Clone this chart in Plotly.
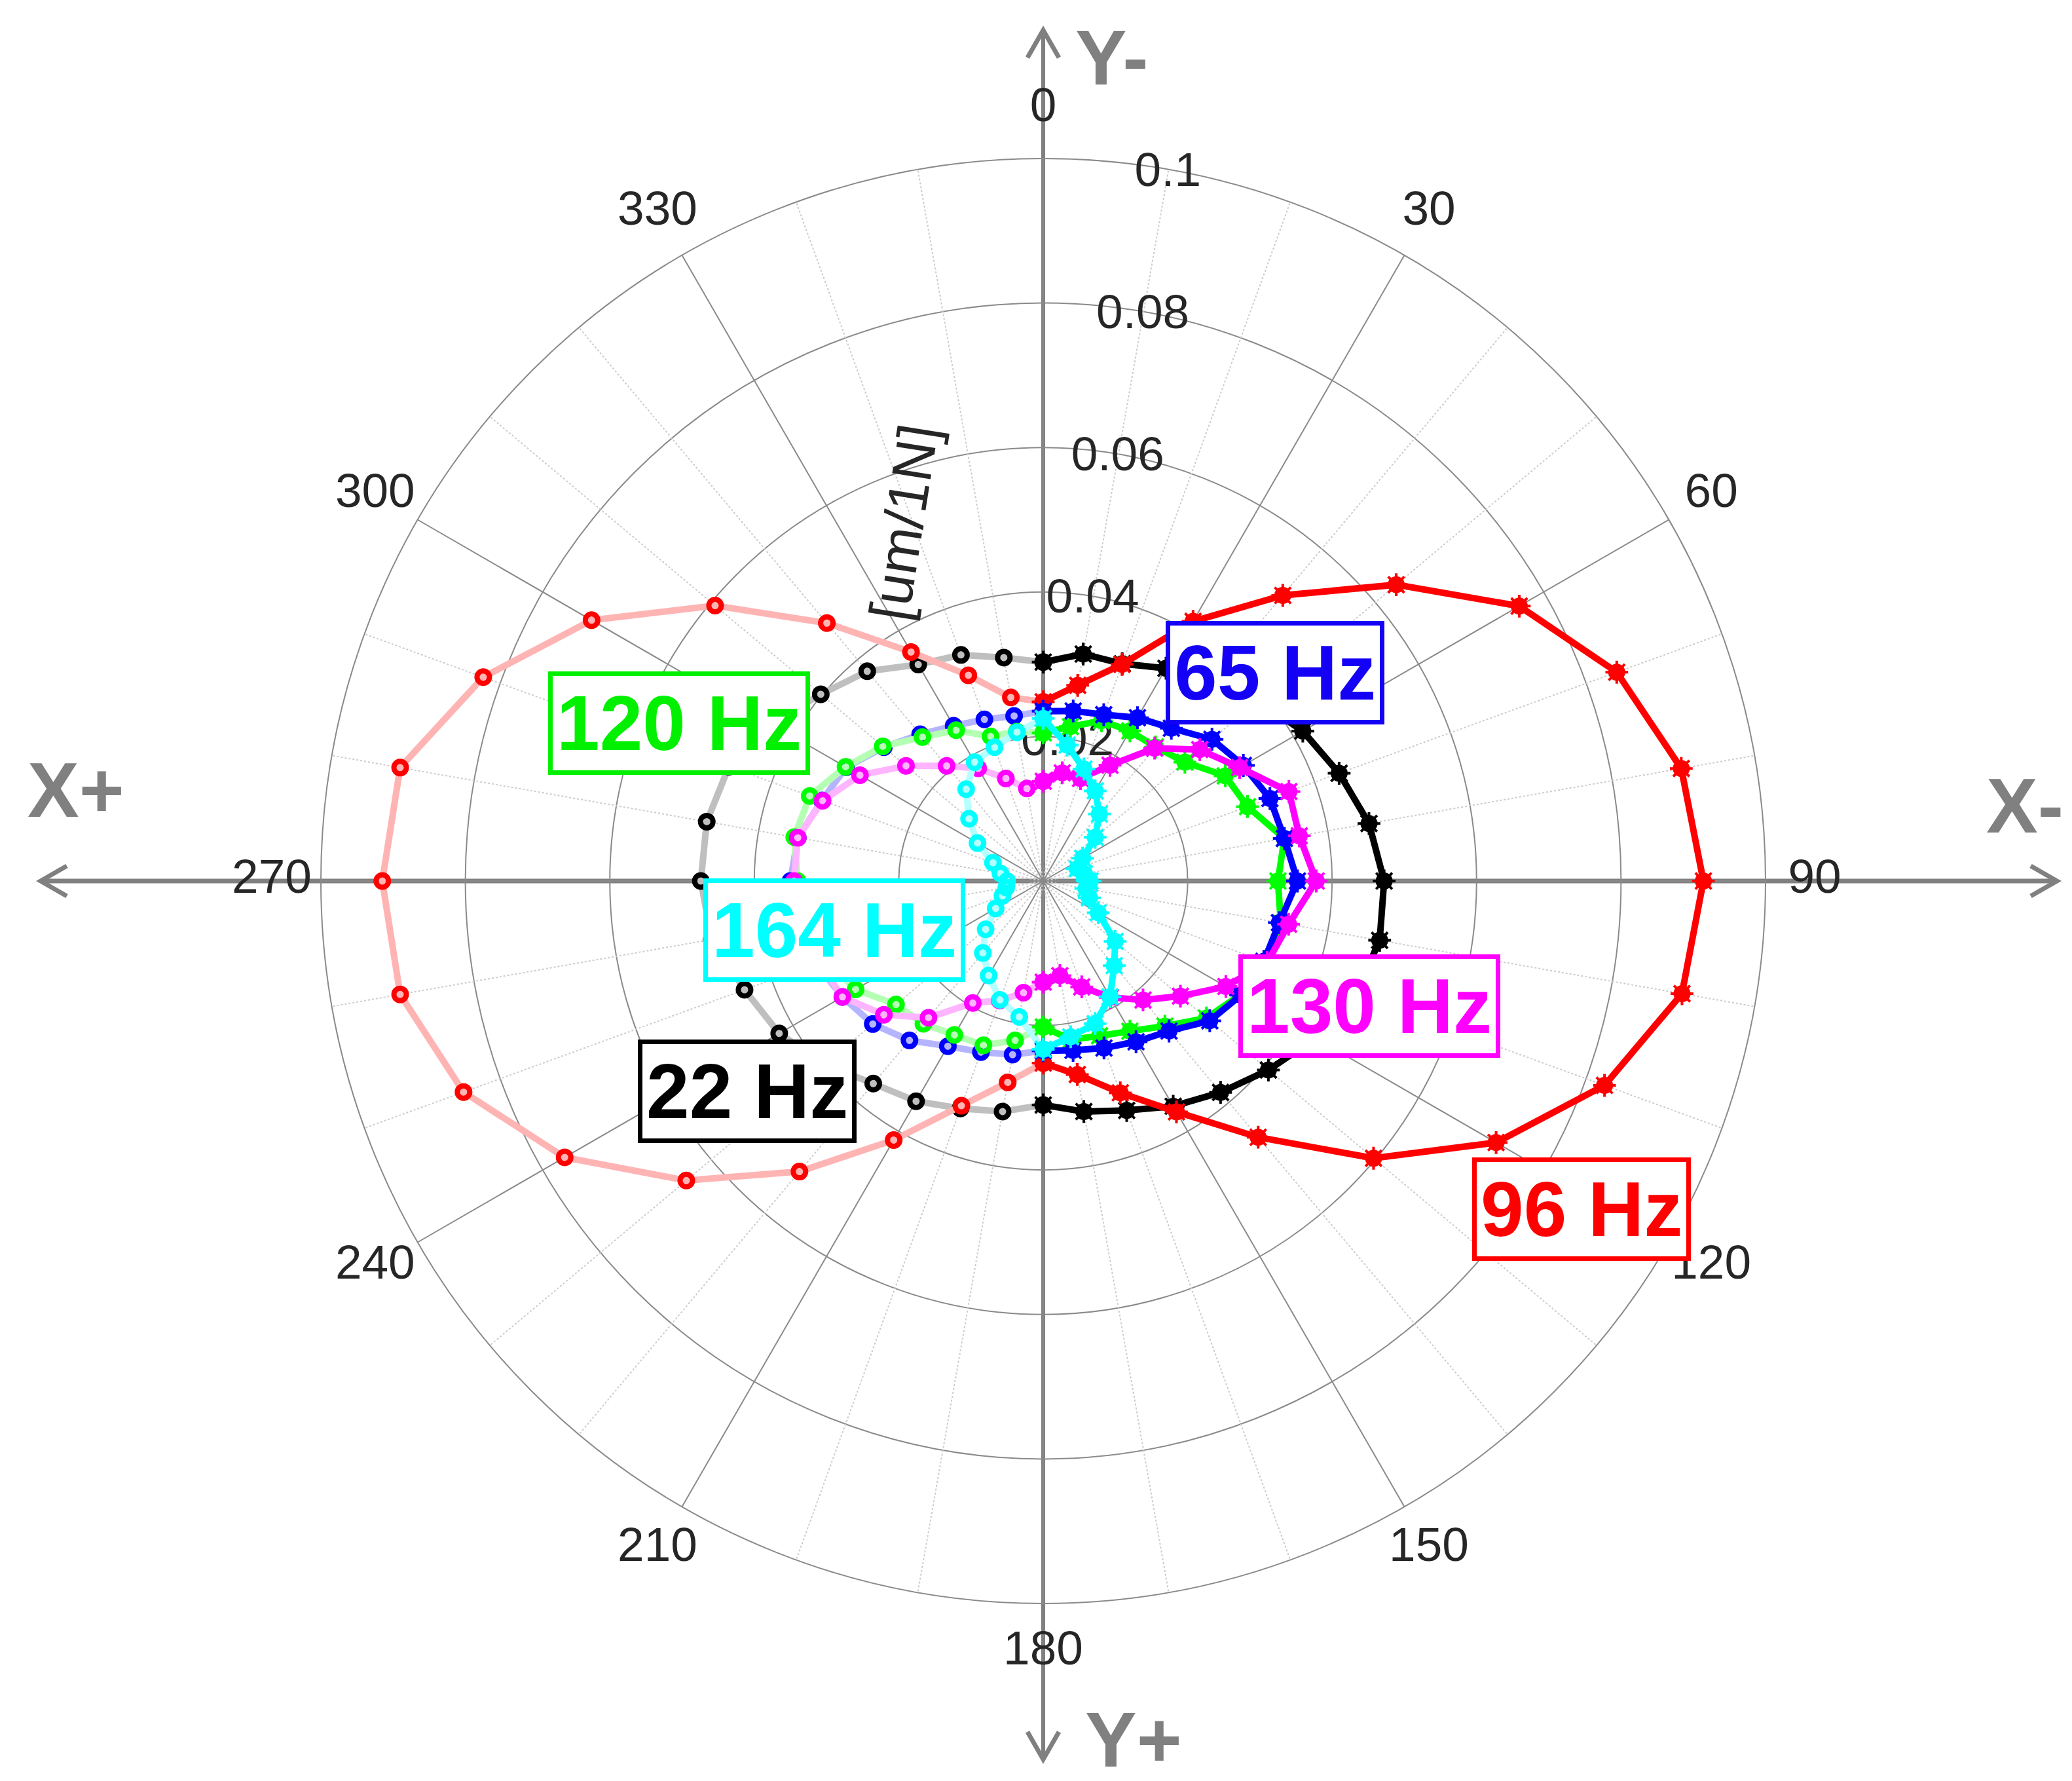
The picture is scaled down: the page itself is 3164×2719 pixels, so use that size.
import plotly.graph_objects as go

# ---------------- data (angle in degrees, clockwise from Y-) ----------------
theta_deg = list(range(0, 360, 10))  # 0..350

r_22hz = [0.0303, 0.0319, 0.0320, 0.0340, 0.0362, 0.0388, 0.0415, 0.0436, 0.0458, 0.0472,
          0.0473, 0.0460, 0.0435, 0.0407, 0.0382, 0.0360, 0.0338, 0.0324, 0.0310,
          0.0324, 0.0335, 0.0352, 0.0366, 0.0395, 0.0422, 0.0440, 0.0466, 0.0474,
          0.0473, 0.0463, 0.0435, 0.0402, 0.0379, 0.0346, 0.0333, 0.0314]
r_96hz = [0.0248, 0.0275, 0.0319, 0.0415, 0.0516, 0.0638, 0.0761, 0.0845, 0.0897, 0.0914,
          0.0898, 0.0827, 0.0724, 0.0597, 0.0463, 0.0369, 0.0312, 0.0272, 0.0252,
          0.0283, 0.0331, 0.0414, 0.0525, 0.0645, 0.0765, 0.0854, 0.0904, 0.0915,
          0.0904, 0.0825, 0.0722, 0.0593, 0.0466, 0.0366, 0.0303, 0.0258]
r_65hz = [0.0235, 0.0239, 0.0245, 0.0261, 0.0276, 0.0305, 0.0320, 0.0334, 0.0339, 0.0352,
          0.0332, 0.0325, 0.0316, 0.0301, 0.0271, 0.0257, 0.0246, 0.0238, 0.0235,
          0.0244, 0.0252, 0.0264, 0.0288, 0.0308, 0.0321, 0.0334, 0.0345, 0.0350,
          0.0345, 0.0326, 0.0315, 0.0288, 0.0265, 0.0248, 0.0238, 0.0232]
r_120hz = [0.0205, 0.0217, 0.0236, 0.0240, 0.0242, 0.0256, 0.0291, 0.0301, 0.0339, 0.0325,
           0.0334, 0.0330, 0.0315, 0.0295, 0.0262, 0.0240, 0.0228, 0.0223, 0.0202,
           0.0224, 0.0242, 0.0246, 0.0258, 0.0266, 0.0300, 0.0320, 0.0335, 0.0340,
           0.0350, 0.0344, 0.0316, 0.0290, 0.0260, 0.0241, 0.0213, 0.0210]
r_130hz = [0.0138, 0.0152, 0.0151, 0.0185, 0.0240, 0.0283, 0.0314, 0.0362, 0.0360, 0.0378,
           0.0345, 0.0330, 0.0292, 0.0248, 0.0215, 0.0186, 0.0156, 0.0133, 0.0140,
           0.0157, 0.0176, 0.0195, 0.0247, 0.0288, 0.0321, 0.0330, 0.0345, 0.0345,
           0.0345, 0.0325, 0.0293, 0.0248, 0.0208, 0.0180, 0.0151, 0.0130]
r_164hz = [0.0225, 0.0191, 0.0165, 0.0144, 0.0121, 0.0094, 0.0063, 0.0050, 0.0058, 0.0065,
           0.0060, 0.0068, 0.0088, 0.0130, 0.0153, 0.0185, 0.0210, 0.0219, 0.0233,
           0.0191, 0.0175, 0.0151, 0.0130, 0.0104, 0.0076, 0.0060, 0.0052, 0.0050,
           0.0060, 0.0074, 0.0105, 0.0134, 0.0166, 0.0190, 0.0197, 0.0209]

series_names = ["22 Hz", "96 Hz", "65 Hz", "120 Hz", "130 Hz", "164 Hz"]
series_values = [r_22hz, r_96hz, r_65hz, r_120hz, r_130hz, r_164hz]
series_colors = ["#000000", "#ff0000", "#0000ff", "#00ff00", "#ff00ff", "#00ffff"]
series_faded = ["#bfbfbf", "#ffb4b4", "#b4b4ff", "#b4ffb4", "#ffb4ff", "#b4ffff"]

radial_ticks = [0.02, 0.04, 0.06, 0.08, 0.1]
radial_ticktext = ["0.02", "0.04", "0.06", "0.08", "0.1"]
angular_ticks = list(range(0, 360, 30))
angular_ticktext = [str(a) for a in angular_ticks]
minor_spokes = [a for a in range(0, 360, 10) if a % 30 != 0]

# labels: (text, color, pixel centre)
freq_labels = [("65 Hz", "#1400f5", (1939, 1019)),
               ("120 Hz", "#00f000", (1029, 1096)),
               ("164 Hz", "#00ffff", (1266, 1412)),
               ("130 Hz", "#ff00ff", (2083, 1528)),
               ("22 Hz", "#000000", (1133, 1658)),
               ("96 Hz", "#ff0000", (2407, 1838))]

# ---------------- geometry ----------------
W, H = 3164, 2719
CXP, CYP, RP = 1585, 1337, 1103          # polar centre / pixel radius of the 0.1 ring
RMAX = 0.1                               # outer grid ring
RRANGE = 0.112                           # axis range (room for the angle labels)
RPX = RP * RRANGE / RMAX


def px(x):
    return x / W


def py(y):
    return 1 - y / H


fig = go.Figure()
grid_col = "#8a8a8a"

# dotted minor spokes
sr, st = [], []
for a in minor_spokes:
    sr += [0, RMAX, None]
    st += [a, a, None]
fig.add_trace(go.Scatterpolar(r=sr, theta=st, mode="lines",
                              line=dict(color="#cccccc", width=2, dash="dot"),
                              hoverinfo="skip", connectgaps=False))
# solid major spokes
sr, st = [], []
for a in angular_ticks:
    sr += [0, RMAX, None]
    st += [a, a, None]
fig.add_trace(go.Scatterpolar(r=sr, theta=st, mode="lines",
                              line=dict(color=grid_col, width=2),
                              hoverinfo="skip", connectgaps=False))

# radial tick labels along 10 degrees
fig.add_trace(go.Scatterpolar(r=[v - 0.0006 for v in radial_ticks], theta=[10] * len(radial_ticks),
                              mode="text", text=radial_ticktext,
                              textfont=dict(size=73, color="#262626", family="Liberation Sans"),
                              hoverinfo="skip"))

# angular tick labels, centred just outside the outer ring
fig.add_trace(go.Scatterpolar(r=[RMAX * 1.068] * len(angular_ticks), theta=angular_ticks,
                              mode="text", text=angular_ticktext, cliponaxis=False,
                              textfont=dict(size=73, color="#262626", family="Liberation Sans"),
                              hoverinfo="skip"))

# faded halves (180..360)
for name, vals, col, fcol in zip(series_names, series_values, series_colors, series_faded):
    th = theta_deg[18:] + [360]
    rr = vals[18:] + [vals[0]]
    fig.add_trace(go.Scatterpolar(
        r=rr, theta=th, mode="lines+markers", name=name + " (180-360)",
        line=dict(color=fcol, width=10),
        marker=dict(symbol="circle-open", size=19, color=col, line=dict(color=col, width=8)),
        hoverinfo="skip"))

# solid halves (0..180)
order = [0, 1, 3, 2, 4, 5]
for i in order:
    name, vals, col = series_names[i], series_values[i], series_colors[i]
    fig.add_trace(go.Scatterpolar(
        r=vals[:19], theta=theta_deg[:19], mode="lines+markers", name=name,
        line=dict(color=col, width=10),
        marker=dict(symbol="circle", size=26, color=col, line=dict(width=0)),
        hoverinfo="skip"))
    fig.add_trace(go.Scatterpolar(
        r=vals[:19], theta=theta_deg[:19], mode="markers", name=name + " spikes",
        marker=dict(symbol="asterisk-open", size=29, color=col, line=dict(color=col, width=4)),
        hoverinfo="skip"))

fig.update_layout(
    width=W, height=H, margin=dict(l=0, r=0, t=0, b=0),
    paper_bgcolor="white", showlegend=False,
    polar=dict(
        domain=dict(x=[px(CXP - RPX), px(CXP + RPX)], y=[py(CYP + RPX), py(CYP - RPX)]),
        bgcolor="rgba(0,0,0,0)",
        radialaxis=dict(range=[0, RRANGE], tickvals=radial_ticks, showticklabels=False,
                        ticks="", showline=False, gridcolor=grid_col, gridwidth=2),
        angularaxis=dict(direction="clockwise", rotation=90, tickmode="array",
                         tickvals=angular_ticks, showticklabels=False, ticks="",
                         showline=False, showgrid=False),
    ),
)

# ---------------- axis arrows (decoration) ----------------
arrow_col = "#808080"
shapes = []
shapes.append(dict(type="line", xref="paper", yref="paper", layer="below",
                   x0=px(54), y0=py(CYP), x1=px(3133), y1=py(CYP),
                   line=dict(color=arrow_col, width=7)))
shapes.append(dict(type="line", xref="paper", yref="paper", layer="below",
                   x0=px(CXP), y0=py(38), x1=px(CXP), y1=py(2678),
                   line=dict(color=arrow_col, width=6)))


def chevron(tx, ty, ax1, ay1, ax2, ay2):
    return dict(type="path", xref="paper", yref="paper", layer="below",
                path=f"M {px(ax1)} {py(ay1)} L {px(tx)} {py(ty)} L {px(ax2)} {py(ay2)}",
                line=dict(color=arrow_col, width=7))


shapes.append(chevron(54, CYP, 94, CYP - 23, 94, CYP + 23))
shapes.append(chevron(3133, CYP, 3093, CYP - 23, 3093, CYP + 23))
shapes.append(chevron(CXP, 38, CXP - 24, 80, CXP + 24, 80))
shapes.append(chevron(CXP, 2678, CXP - 24, 2636, CXP + 24, 2636))
fig.update_layout(shapes=shapes)

annotations = []
for txt, (x, y) in [("Y-", (1690, 80)), ("Y+", (1723, 2648)), ("X+", (108, 1198)), ("X-", (3084, 1222))]:
    annotations.append(dict(x=px(x), y=py(y), xref="paper", yref="paper", text=f"<b>{txt}</b>",
                            showarrow=False, xanchor="center", yanchor="middle",
                            font=dict(size=118, color=arrow_col, family="Liberation Sans")))

for txt, col, (x, y) in freq_labels:
    annotations.append(dict(x=px(x), y=py(y), xref="paper", yref="paper", text=f"<b>{txt}</b>",
                            showarrow=False, xanchor="center", yanchor="middle",
                            bgcolor="white", bordercolor=col, borderwidth=7, borderpad=6,
                            font=dict(size=118, color=col, family="Liberation Sans")))

annotations.append(dict(x=px(1372), y=py(790), xref="paper", yref="paper", text="[um/1N]",
                        showarrow=False, textangle=-81, xanchor="center", yanchor="middle",
                        font=dict(size=86, color="#262626", family="Liberation Sans")))
fig.update_layout(annotations=annotations)

fig.write_html("out.html")
